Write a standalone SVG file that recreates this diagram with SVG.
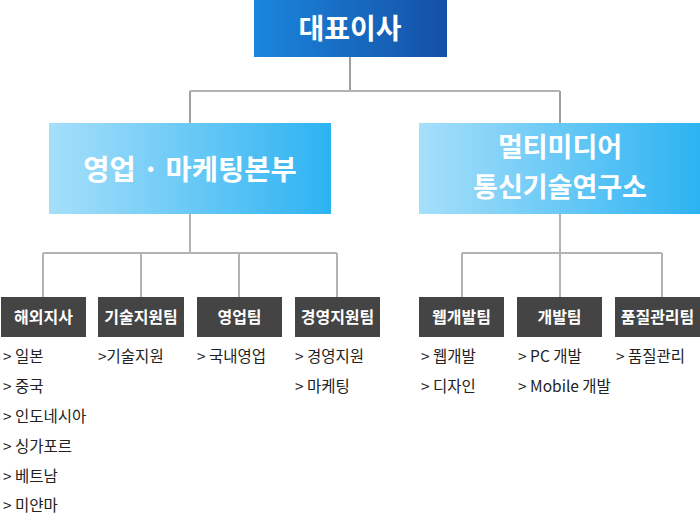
<svg xmlns="http://www.w3.org/2000/svg" width="700" height="516" viewBox="0 0 700 516">
<defs>
<linearGradient id="gTop" x1="0" y1="0" x2="1" y2="0">
<stop offset="0" stop-color="#1a86dc"/>
<stop offset="1" stop-color="#1450a6"/>
</linearGradient>
<linearGradient id="gMid" x1="0" y1="0" x2="1" y2="0">
<stop offset="0" stop-color="#a6dffa"/>
<stop offset="1" stop-color="#2db3f2"/>
</linearGradient>
<style>
.hd{font-family:"Noto Sans CJK KR","Noto Sans",sans-serif;font-weight:bold;fill:#fff;text-anchor:middle}
.top{font-size:28px}
.mid{font-size:28.5px}
.mid2{font-size:27px}
.dept{font-size:16px}
.item{font-family:"Noto Sans CJK KR","Noto Sans",sans-serif;font-size:15.5px;fill:#222}
.dbox{fill:#444}
.ln{stroke:#b3b3b3;stroke-width:2;fill:none}
.ld{stroke:#808080;stroke-width:1.5;fill:none}
</style>
</defs>
<g id="connectors">
<path class="ld" d="M350 57 V91 M190 91 V123 M560 91 V123"/>
<path class="ln" d="M190 91 H560"/>
<path class="ln" d="M190 214 V253 M43 253 H337 M43 253 V297 M141 253 V297 M239 253 V297 M337 253 V297"/>
<path class="ln" d="M560 214 V253 M462 253 H662 M462 253 V297 M560 253 V297 M662 253 V297"/>
</g>
<g id="ceo">
<rect x="254" y="0" width="193" height="57" fill="url(#gTop)"/>
<text class="hd top" x="350" y="39">대표이사</text>
</g>
<g id="sales-marketing">
<rect x="49" y="123" width="282" height="91" fill="url(#gMid)"/>
<text class="hd mid" x="190" y="180">영업 · 마케팅본부</text>
</g>
<g id="multimedia-lab">
<rect x="419" y="123" width="281" height="91" fill="url(#gMid)"/>
<text class="hd mid2" x="560" y="157">멀티미디어</text>
<text class="hd mid2" x="560" y="197">통신기술연구소</text>
</g>
<g id="overseas">
<rect class="dbox" x="1" y="297" width="85" height="40"/>
<text class="hd dept" x="43.5" y="323">해외지사</text>
<text class="item" x="3" y="362">&gt; 일본</text>
<text class="item" x="3" y="392">&gt; 중국</text>
<text class="item" x="3" y="422">&gt; 인도네시아</text>
<text class="item" x="3" y="452">&gt; 싱가포르</text>
<text class="item" x="3" y="482">&gt; 베트남</text>
<text class="item" x="3" y="511">&gt; 미얀마</text>
</g>
<g id="tech-support">
<rect class="dbox" x="98" y="297" width="86" height="40"/>
<text class="hd dept" x="141" y="323">기술지원팀</text>
<text class="item" x="98" y="362">&gt;기술지원</text>
</g>
<g id="sales-team">
<rect class="dbox" x="197" y="297" width="85" height="40"/>
<text class="hd dept" x="239.5" y="323">영업팀</text>
<text class="item" x="197" y="362">&gt; 국내영업</text>
</g>
<g id="mgmt-support">
<rect class="dbox" x="295" y="297" width="85" height="40"/>
<text class="hd dept" x="337.5" y="323">경영지원팀</text>
<text class="item" x="295" y="362">&gt; 경영지원</text>
<text class="item" x="295" y="392">&gt; 마케팅</text>
</g>
<g id="web-dev">
<rect class="dbox" x="419" y="297" width="85" height="40"/>
<text class="hd dept" x="461.5" y="323">웹개발팀</text>
<text class="item" x="421" y="362">&gt; 웹개발</text>
<text class="item" x="421" y="392">&gt; 디자인</text>
</g>
<g id="dev">
<rect class="dbox" x="517" y="297" width="85" height="40"/>
<text class="hd dept" x="559.5" y="323">개발팀</text>
<text class="item" x="518" y="362">&gt; PC 개발</text>
<text class="item" x="518" y="392">&gt; Mobile 개발</text>
</g>
<g id="qa">
<rect class="dbox" x="615" y="297" width="85" height="40"/>
<text class="hd dept" x="657.5" y="323">품질관리팀</text>
<text class="item" x="616" y="362">&gt; 품질관리</text>
</g>
</svg>
